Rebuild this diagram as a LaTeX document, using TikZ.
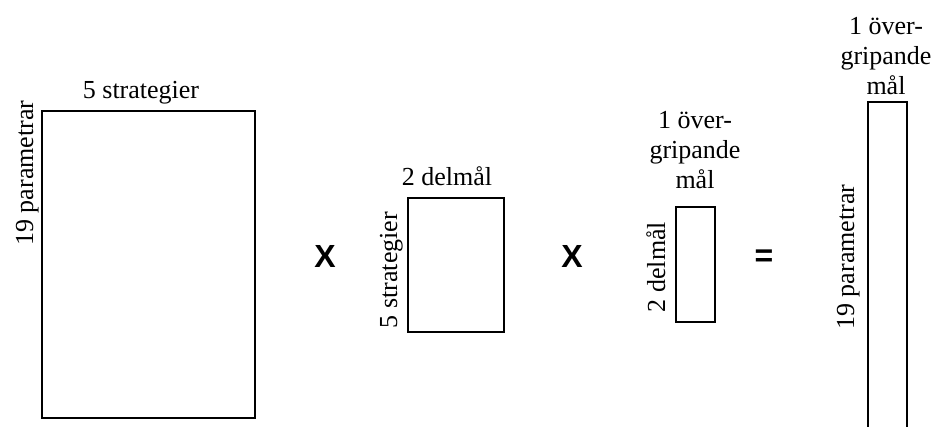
\documentclass[tikz,border=0pt]{standalone}
\usepackage{fontspec}
\setmainfont{Liberation Serif}
\newfontfamily\opfont{Liberation Sans}
\begin{document}
\begin{tikzpicture}[x=1pt,y=-1pt,
  matbox/.style={draw=black,line width=1.6pt},
  lbl/.style={font=\fontsize{26}{30}\selectfont,inner sep=0pt},
  vlbl/.style={lbl,rotate=90,anchor=base},
  oplbl/.style={font=\opfont\bfseries\fontsize{32}{36}\selectfont,inner sep=0pt}]
\useasboundingbox (0,0) rectangle (937,426);
\clip (0,0) rectangle (937,426);
% matrices
\draw[matbox] (42,111) rectangle (255,418);
\draw[matbox] (408,198) rectangle (504,332);
\draw[matbox] (676,207) rectangle (715,322);
\draw[matbox] (868,102) rectangle (907,440);
% top labels
\node[lbl,anchor=base] (t1) at (141,98) {5 strategier};
\node[lbl,anchor=base] (t2) at (447,185) {2 delmål};
\node[lbl,anchor=south,align=center] (t3) at (695,189) {1 över-\\gripande\\mål};
\node[lbl,anchor=south,align=center] (t4) at (886,95) {1 över-\\gripande\\mål};
% side labels
\node[vlbl] (s1) at (33,173) {19 parametrar};
\node[vlbl] (s2) at (397,270) {5 strategier};
\node[vlbl] (s3) at (665,267) {2 delmål};
\node[vlbl] (s4) at (854,257) {19 parametrar};
% operators
\node[oplbl] (x1) at (325,256) {X};
\node[oplbl] (x2) at (572,256) {X};
\node[oplbl] (eq) at (764,258) {=};
\end{tikzpicture}
\end{document}
